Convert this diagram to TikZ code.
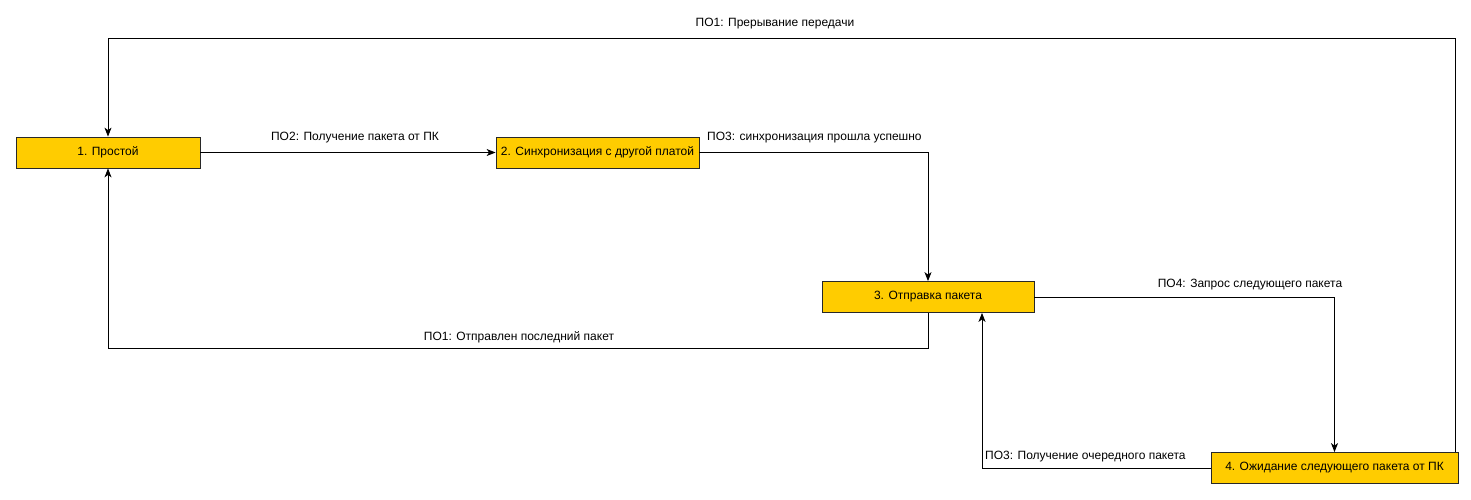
\documentclass[tikz,border=0pt]{standalone}
\usepackage{fontspec}
\setmainfont{Liberation Sans}
\usetikzlibrary{arrows.meta,calc}
\definecolor{boxfill}{RGB}{255,204,0}
\definecolor{boxline}{RGB}{40,40,40}
\tikzset{
  statebox/.style={draw=boxline, fill=boxfill, line width=0.8pt, rectangle, inner sep=0pt, minimum height=31pt, font=\fontsize{12}{14}\selectfont},
  conn/.style={line width=0.9pt, draw=black, -{Stealth[length=9pt,width=7pt,inset=2.5pt]}},
  lbl/.style={font=\fontsize{12}{14}\selectfont, inner sep=0pt}
}
\begin{document}
\begin{tikzpicture}[x=1pt,y=-1pt]
\useasboundingbox (0,0) rectangle (1471,499);
\node[statebox, minimum width=184pt] (b1) at (108,152.5) {1. Простой};
\node[statebox, minimum width=203pt] (b2) at (597.5,152.5) {2. Синхронизация с другой платой};
\node[statebox, minimum width=212pt] (b3) at (928,297) {3. Отправка пакета};
\node[statebox, minimum width=247pt] (b4) at (1334.5,468) {4. Ожидание следующего пакета от ПК};

\coordinate (k3) at (108,348);
\coordinate (k5) at ($(b3.south)+(54,0)$);
\coordinate (k6a) at ($(b4.north east)+(-3,0)$);
\coordinate (k6b) at (108,38);

\draw[conn] (b1.east) -- (b2.west);
\draw[conn] (b2.east) -| (b3.north);
\draw[conn] (b3.south) |- (k3) -- (b1.south);
\draw[conn] (b3.east) -| (b4.north);
\draw[conn] (b4.west) -| (k5);
\draw[conn] (k6a) |- (k6b) -- (b1.north);

\node[lbl] (l1) at (355,138) {ПО2: Получение пакета от ПК};
\node[lbl, anchor=west] (l2) at (707,138) {ПО3: синхронизация прошла успешно};
\node[lbl] (l3) at (519,337) {ПО1: Отправлен последний пакет};
\node[lbl] (l4) at (1250,285) {ПО4: Запрос следующего пакета};
\node[lbl, anchor=west] (l5) at (985,457) {ПО3: Получение очередного пакета};
\node[lbl] (l6) at (775,24) {ПО1: Прерывание передачи};
\end{tikzpicture}
\end{document}
